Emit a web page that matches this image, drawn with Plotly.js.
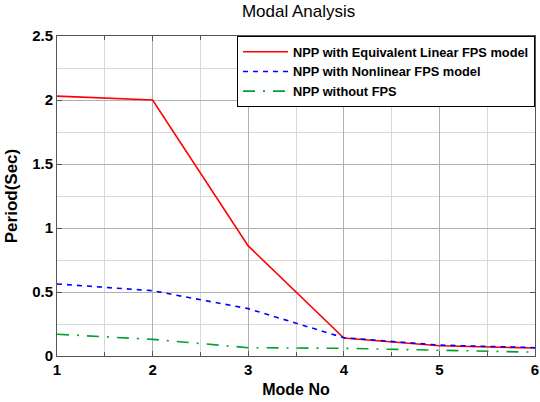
<!DOCTYPE html>
<html><head><meta charset="utf-8">
<script src="https://cdn.plot.ly/plotly-3.0.1.min.js"></script>
<style>body{margin:0;background:#fff;overflow:hidden}#c{width:540px;height:402px}</style>
</head><body><div id="c"></div>
<script>
const modes = [1, 2, 3, 4, 5, 6];
const eqLinear = [2.03, 2.0, 0.86, 0.14, 0.08, 0.062];
const nonlinear = [0.563, 0.51, 0.37, 0.143, 0.085, 0.065];
const withoutFPS = [0.17, 0.13, 0.065, 0.06, 0.045, 0.03];
const names = ['NPP with Equivalent Linear FPS model', 'NPP with Nonlinear FPS model', 'NPP without FPS'];
const F = 'Liberation Sans, Arial, sans-serif';
const traces = [
  {x: modes, y: eqLinear, name: names[0], mode: 'lines', line: {color: '#ff0000', width: 1.6}},
  {x: modes, y: nonlinear, name: names[1], mode: 'lines', line: {color: '#0000ff', width: 1.6, dash: '5px,5px'}},
  {x: modes, y: withoutFPS, name: names[2], mode: 'lines', line: {color: '#00a030', width: 1.6, dash: '12px,8px,2px,8px'}}
];
const layout = {
  width: 540, height: 402,
  margin: {l: 57, r: 5, t: 36, b: 46},
  paper_bgcolor: '#fff', plot_bgcolor: '#fff',
  title: {text: 'Modal Analysis', font: {family: F, size: 17, color: '#000'}, x: 0.553, xanchor: 'center', y: 0.988, yanchor: 'top'},
  showlegend: true,
  legend: {x: 1, xanchor: 'right', y: 1, yanchor: 'top', bgcolor: '#fff', bordercolor: '#000', borderwidth: 1,
    font: {family: F, size: 12.8, color: '#000', weight: 'bold'}, tracegroupgap: 0, itemwidth: 45},
  xaxis: {range: [1, 6], dtick: 1, tick0: 1, showgrid: true, gridcolor: '#b0b0b0', gridwidth: 1,
    minor: {dtick: 0.5, showgrid: true, gridcolor: '#d8d8d8', ticks: 'inside', ticklen: 4, tickcolor: '#555'},
    ticks: 'inside', ticklen: 5, tickcolor: '#555', mirror: 'ticks', showline: true, linecolor: '#555', linewidth: 1,
    zeroline: false, tickfont: {family: F, size: 15, color: '#000', weight: 'bold'},
    title: {text: 'Mode No', font: {family: F, size: 16, color: '#000', weight: 'bold'}, standoff: 6}},
  yaxis: {range: [0, 2.5], dtick: 0.5, showgrid: true, gridcolor: '#b0b0b0', gridwidth: 1,
    minor: {dtick: 0.25, showgrid: true, gridcolor: '#d8d8d8'},
    ticks: 'inside', ticklen: 5, tickcolor: '#555', mirror: 'ticks', showline: true, linecolor: '#555', linewidth: 1,
    zeroline: false, tickfont: {family: F, size: 15, color: '#000', weight: 'bold'},
    title: {text: 'Period(Sec)', font: {family: F, size: 17, color: '#000', weight: 'bold'}, standoff: 10}}
};
Plotly.newPlot('c', traces, layout, {displayModeBar: false, staticPlot: true});
</script></body></html>
